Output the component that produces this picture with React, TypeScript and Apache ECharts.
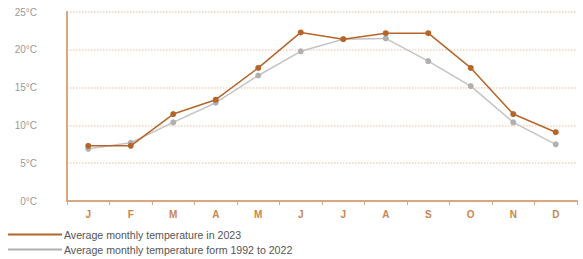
import React, { useEffect, useRef } from "react";
import * as echarts from "echarts";

const months = ["J", "F", "M", "A", "M", "J", "J", "A", "S", "O", "N", "D"];
const temp2023 = [7.3, 7.3, 11.5, 13.4, 17.6, 22.3, 21.4, 22.2, 22.2, 17.6, 11.5, 9.1];
const tempAvg = [6.9, 7.7, 10.4, 13.0, 16.6, 19.8, 21.4, 21.5, 18.5, 15.2, 10.4, 7.5];
const seriesNames = [
  "Average monthly temperature in 2023",
  "Average monthly temperature form 1992 to 2022",
];

export default function App() {
  const ref = useRef<HTMLDivElement>(null);
  useEffect(() => {
    if (!ref.current) return;
    const chart = echarts.init(ref.current, undefined, { renderer: "svg" });
    chart.setOption({
      animation: false,
      textStyle: { fontFamily: "Liberation Sans, Arial, sans-serif" },
      grid: { left: 67, right: 6, top: 12, bottom: 58, containLabel: false },
      legend: {
        orient: "vertical",
        left: 8,
        top: 229,
        padding: 0,
        itemGap: 4,
        itemWidth: 54,
        itemHeight: 2,
        icon: "rect",
        textStyle: { fontSize: 10.6, color: "#555", padding: [0, 0, 0, -3] },
        data: seriesNames,
      },
      xAxis: {
        type: "category",
        data: months,
        boundaryGap: true,
        axisLine: { lineStyle: { color: "#d9a680", width: 2 } },
        axisTick: { show: true, length: 4, lineStyle: { color: "#d9a680" } },
        axisLabel: { color: "#c98650", fontSize: 10, fontWeight: "bold", margin: 8 },
      },
      yAxis: {
        type: "value",
        min: 0,
        max: 25,
        interval: 5,
        axisLine: { show: true, lineStyle: { color: "#d9a680", width: 2 } },
        axisTick: { show: false },
        axisLabel: {
          color: "#9a9a9a",
          fontSize: 10,
          margin: 30,
          formatter: (v: number) => `${v}°C`,
        },
        splitLine: { lineStyle: { color: "#f0d4bf", type: "dotted", width: 1.5 } },
      },
      series: [
        {
          name: seriesNames[0],
          type: "line",
          data: temp2023,
          z: 3,
          symbol: "circle",
          symbolSize: 6,
          lineStyle: { color: "#b5652a", width: 1.5 },
          itemStyle: { color: "#b5652a" },
        },
        {
          name: seriesNames[1],
          type: "line",
          data: tempAvg,
          z: 2,
          symbol: "circle",
          symbolSize: 6,
          lineStyle: { color: "#c4c4c4", width: 1.5 },
          itemStyle: { color: "#b0b0b0" },
        },
      ],
    });
    return () => chart.dispose();
  }, []);
  return <div ref={ref} style={{ width: 583, height: 259, position: "absolute", left: 0, top: 0 }} />;
}
